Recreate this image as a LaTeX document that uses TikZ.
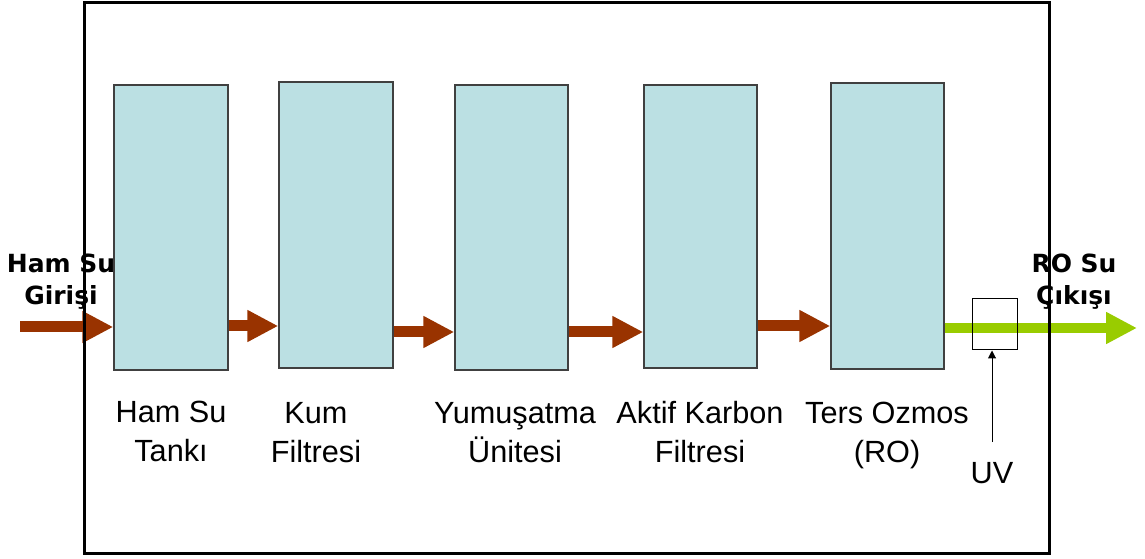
\documentclass[tikz,border=0pt]{standalone}
\usepackage{fontspec}
\setmainfont{Liberation Sans}
\newfontfamily\boldlabelfont{DejaVu Sans}[BoldFont={DejaVu Sans Bold}]
\usetikzlibrary{arrows.meta}
\definecolor{tankfill}{HTML}{BBE0E3}
\definecolor{tankedge}{HTML}{404040}
\definecolor{flowbrown}{HTML}{993300}
\definecolor{flowgreen}{HTML}{99CC00}
\tikzset{
  tank/.style={draw=tankedge, fill=tankfill, line width=1.1pt, inner sep=0pt,
    minimum width=85pt, minimum height=214pt},
  caption/.style={align=center, inner sep=0pt, anchor=base,
    font=\fontsize{23}{29}\selectfont},
  endlabel/.style={align=center, inner sep=0pt, anchor=base,
    font=\boldlabelfont\bfseries\fontsize{18.75}{24}\selectfont},
  rawflow/.style={draw=flowbrown, line width=8.25pt,
    -{Triangle[length=23.25pt 0, width=22.5pt 0]}},
  cleanflow/.style={draw=flowgreen, line width=7.5pt,
    -{Triangle[length=23.25pt 0, width=22.5pt 0]}},
}
\begin{document}
\begin{tikzpicture}[x=0.75pt, y=-0.75pt]
  \useasboundingbox (0,0) rectangle (1145,559);

  % treatment units
  \node[tank, minimum width=85.5pt, minimum height=213.75pt] (b1) at (171,227.5) {};
  \node[tank, minimum width=85.5pt, minimum height=214.5pt] (b2) at (336,225) {};
  \node[tank, minimum width=84.75pt, minimum height=213.75pt] (b3) at (511.5,227.5) {};
  \node[tank, minimum width=84.75pt, minimum height=212.25pt] (b4) at (700.5,226.5) {};
  \node[tank, minimum width=84.75pt, minimum height=214.5pt] (b5) at (887.5,226) {};

  % free ends of the feed and product lines
  \coordinate (feed) at (20,327);
  \coordinate (product) at (1137,328);

  % brown raw-water flow between units
  \draw[rawflow] (feed) -- (b1.west |- feed);
  \draw[rawflow] (b1.east |- 0,326) -- (b2.west |- 0,326);
  \draw[rawflow] (b2.east |- 0,332) -- (b3.west |- 0,332);
  \draw[rawflow] (b3.east |- 0,332) -- (b4.west |- 0,332);
  \draw[rawflow] (b4.east |- 0,326) -- (b5.west |- 0,326);

  % green product line with UV lamp
  \draw[cleanflow] (b5.east |- product) -- (product);
  \node[draw=black, line width=0.75pt, inner sep=0pt,
        minimum width=33.75pt, minimum height=38.25pt] (uv) at (994.5,324.5) {};

  % unit captions (anchored on the baseline of the second line)
  \node[caption] (c1) at (171,461) {Ham Su\\Tankı};
  \node[caption] (c2) at (316,462) {Kum\\Filtresi};
  \node[caption] (c3) at (515,462) {Yumuşatma\\Ünitesi};
  \node[caption] (c4) at (700,462) {Aktif Karbon\\Filtresi};
  \node[caption] (c5) at (887,462) {Ters Ozmos\\(RO)};
  \node[caption] (uvl) at (992,483) {UV};
  \draw[line width=0.75pt, -{Triangle[length=6pt 0, width=6pt 0]}]
    (uvl.north |- 0,442) -- (uvl.north |- uv.south);

  % inlet and outlet labels
  \node[endlabel] (inl) at (61,305) {Ham Su\\Girişi};
  \node[endlabel] (outl) at (1074,305) {RO Su\\Çıkışı};

  % outer frame
  \draw[black, line width=2.25pt] (84,3) rectangle (1049,553);
\end{tikzpicture}
\end{document}
